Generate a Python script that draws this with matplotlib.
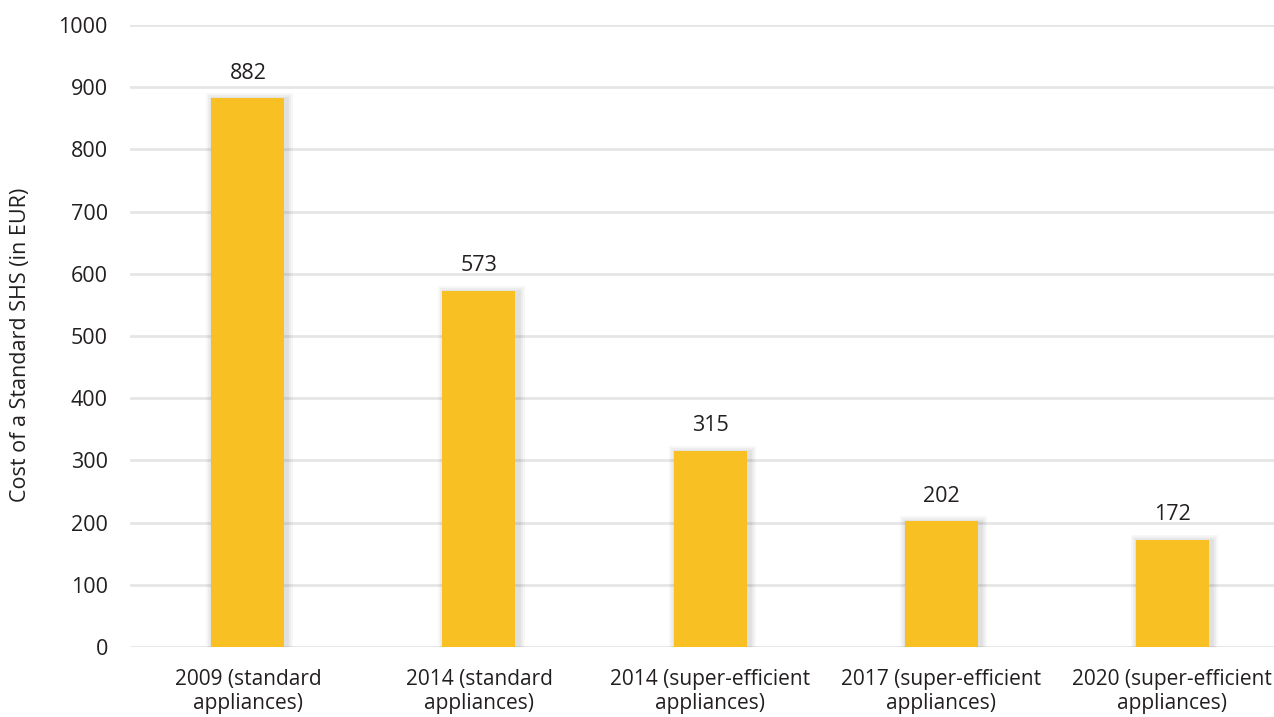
import matplotlib
matplotlib.use("Agg")
import matplotlib.pyplot as plt
import matplotlib.patheffects as pe

categories = ["2009 (standard\nappliances)", "2014 (standard\nappliances)",
              "2014 (super-efficient\nappliances)", "2017 (super-efficient\nappliances)",
              "2020 (super-efficient\nappliances)"]
values = [882, 573, 315, 202, 172]
yticks = [0, 100, 200, 300, 400, 500, 600, 700, 800, 900, 1000]

plt.rcParams['font.family'] = ['Open Sans', 'DejaVu Sans']

fig = plt.figure(figsize=(12.74, 7.17), dpi=100)
ax = fig.add_axes([130/1274, 1 - 647/717, (1274 - 130)/1274, (647 - 25)/717])

x = list(range(len(values)))
bars = ax.bar(x, values, width=0.316, color="#F9C023", zorder=3)
glow = []
for w, a in [(10, 0.05), (7, 0.06), (4, 0.08)]:
    glow.append(pe.SimpleLineShadow(offset=(1.5, -1.5), shadow_color="#555555", alpha=a, linewidth=w))
for b in bars:
    b.set_path_effects(glow + [pe.Normal()])
for xi, v in zip(x, values):
    ax.annotate(str(v), (xi, v), xytext=(0, 10.5), textcoords="offset points",
                ha="center", va="bottom", fontsize=15.5, color="#231F20")

ax.set_xlim(-0.51, 4.44)
ax.set_ylim(0, 1000)
ax.set_yticks(yticks)
ax.set_xticks(x)
ax.set_xticklabels(categories, fontsize=15, color="#231F20", linespacing=1.15)
ax.tick_params(axis="y", labelsize=15.5, colors="#231F20", length=0, pad=16)
ax.tick_params(axis="x", length=0, pad=16)
ax.grid(axis="y", color="#E6E6E6", linewidth=2.0, zorder=0)
ax.set_axisbelow(True)
for s in ax.spines.values():
    s.set_visible(False)
ax.set_ylabel("Cost of a Standard SHS (in EUR)", fontsize=15.5, color="#231F20")
ax.yaxis.set_label_coords(-99/1144, 0.485)

fig.savefig("out.png", dpi=100)
